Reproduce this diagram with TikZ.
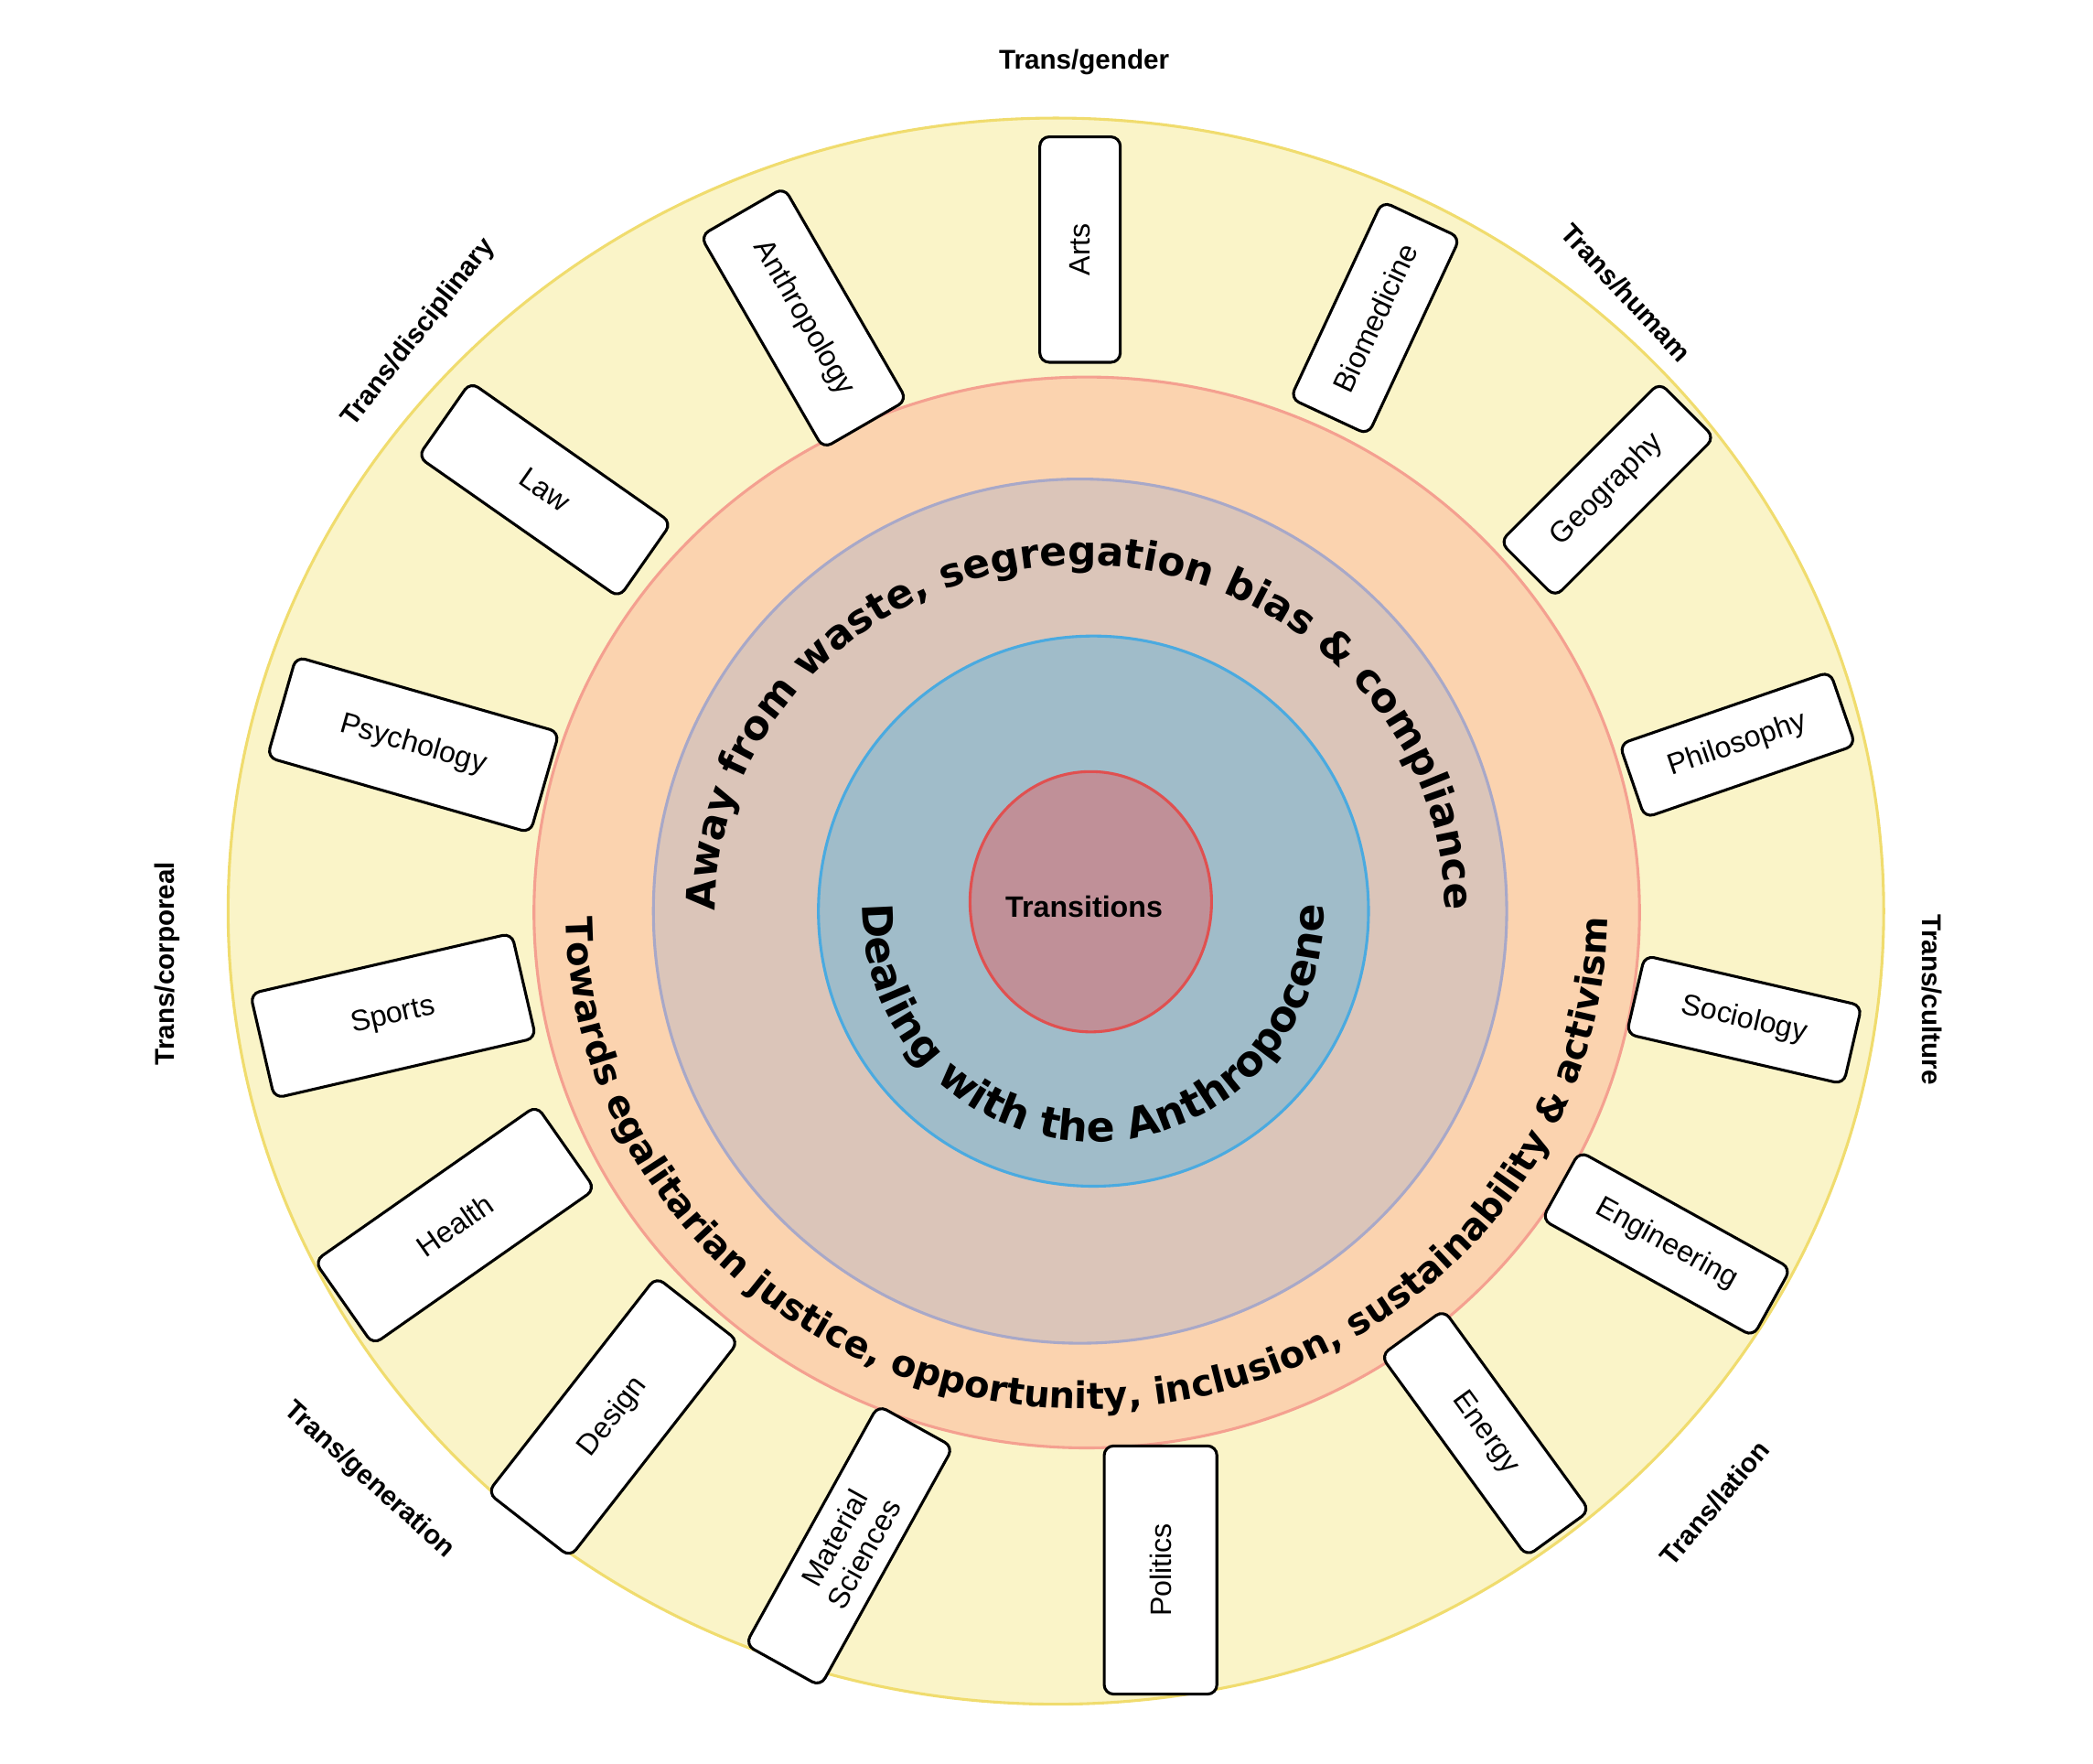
\documentclass[tikz,border=0pt]{standalone}
\usepackage{fontspec}
\setmainfont{Liberation Sans}
\newfontfamily\wheelfont{DejaVu Sans}
\usetikzlibrary{decorations.text}

\definecolor{outerfill}{HTML}{FAF4C8}
\definecolor{outerline}{HTML}{F0DC6E}
\definecolor{ringfill}{HTML}{FBD3AF}
\definecolor{ringline}{HTML}{F4A090}
\definecolor{brownfill}{HTML}{DBC5B9}
\definecolor{brownline}{HTML}{A8A8C8}
\definecolor{bluefill}{HTML}{A0BCC9}
\definecolor{blueline}{HTML}{4AAAE0}
\definecolor{corefill}{HTML}{C09098}
\definecolor{coreline}{HTML}{E05050}

\newcommand{\bigarc}{\wheelfont\bfseries\fontsize{17}{17}\selectfont}
\newcommand{\midarc}{\wheelfont\bfseries\fontsize{17.8}{17.8}\selectfont}
\newcommand{\ringarc}{\wheelfont\bfseries\fontsize{15.6}{15.6}\selectfont}

\tikzset{
  field/.style 2 args={
    draw=black, fill=white, line width=1.2pt, rounded corners=4pt,
    minimum width=#1*0.02cm, minimum height=#2*0.02cm,
    inner sep=1pt, align=center, font=\fontsize{12.5}{14}\selectfont
  },
  trans/.style={font=\bfseries\fontsize{11.5}{13}\selectfont}
}

\begin{document}
\begin{tikzpicture}[x=0.02cm,y=0.02cm]
  \useasboundingbox (0,0) rectangle (1560,1314);

  % rings
  \draw[fill=outerfill, draw=outerline, line width=1.2pt] (787,635) ellipse [x radius=617, y radius=591];
  \draw[fill=ringfill, draw=ringline, line width=1.2pt] (810,634) ellipse [x radius=412, y radius=399];
  \draw[fill=brownfill, draw=brownline, line width=1.2pt] (805,635) ellipse [x radius=318, y radius=322];
  \draw[fill=bluefill, draw=blueline, line width=1.2pt] (815,635) circle (205);
  \draw[fill=corefill, draw=coreline, line width=1.2pt] (813,642) ellipse [x radius=90, y radius=97];
  \node[font=\bfseries\fontsize{12.5}{14}\selectfont] (core) at (808,638) {Transitions};

  % curved texts
  \path[decorate, decoration={text along path, text align=center,
      text={|\bigarc|Away from waste, segregation bias {\&} compliance}}]
    (805,635) ++(182:272 and 258) arc [start angle=182, end angle=-2, x radius=272, y radius=258];
  \path[decorate, decoration={text along path, text align=center,
      text={|\ringarc|Towards egalitarian justice, opportunity, inclusion, sustainability {\&} activism}}]
    (810,634) ++(175:388 and 370) arc [start angle=175, end angle=365, x radius=388, y radius=370];
  \path[decorate, decoration={text along path, text align=center,
      text={|\midarc|Dealing with the Anthropocene}}]
    (815,635) ++(178:172) arc [start angle=178, end angle=362, radius=172];

  % disciplines
  \node[field={168}{60}, rotate=90]  (arts)   at (805,1128) {Arts};
  \node[field={183}{72}, rotate=-60] (anthro) at (599,1077) {Anthropology};
  \node[field={162}{64}, rotate=65]  (biomed) at (1025,1077) {Biomedicine};
  \node[field={168}{58}, rotate=45]  (geo)    at (1198,949) {Geography};
  \node[field={166}{58}, rotate=19]  (philo)  at (1295,759) {Philosophy};
  \node[field={166}{60}, rotate=-13] (socio)  at (1300,554) {Sociology};
  \node[field={180}{58}, rotate=-29] (eng)    at (1242,387) {Engineering};
  \node[field={185}{58}, rotate=-54] (energy) at (1107,246) {Energy};
  \node[field={185}{84}, rotate=90]  (pol)    at (865,144) {Politics};
  \node[field={204}{64}, rotate=61]  (mat)    at (633,162) {Material\\Sciences};
  \node[field={204}{78}, rotate=52]  (design) at (457,258) {Design};
  \node[field={202}{76}, rotate=35]  (health) at (339,401) {Health};
  \node[field={200}{80}, rotate=13]  (sports) at (293,557) {Sports};
  \node[field={204}{78}, rotate=-16] (psych)  at (308,759) {Psychology};
  \node[field={183}{68}, rotate=-35] (law)    at (406,949) {Law};

  % trans labels
  \node[trans]            (tgender) at (808,1268) {Trans/gender};
  \node[trans, rotate=-47] (thuman) at (1212,1096) {Trans/humam};
  \node[trans, rotate=-90] (tcult)  at (1440,569) {Trans/culture};
  \node[trans, rotate=50]  (tlat)   at (1278,194) {Trans/lation};
  \node[trans, rotate=-42] (tgen)   at (275,211) {Trans/generation};
  \node[trans, rotate=90]  (tcorp)  at (125,596) {Trans/corporeal};
  \node[trans, rotate=52]  (tdisc)  at (312,1066) {Trans/disciplinary};
\end{tikzpicture}
\end{document}
